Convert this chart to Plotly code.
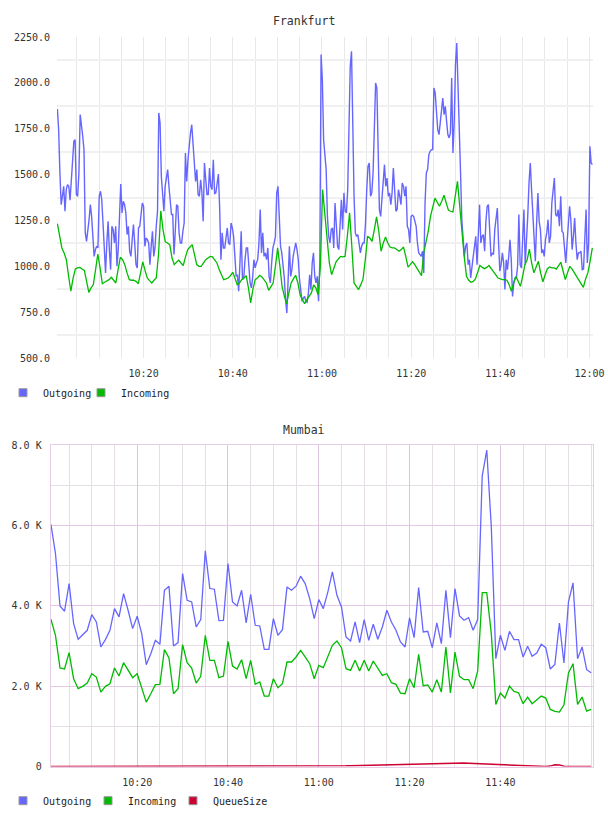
import plotly.graph_objects as go
import pandas as pd

DAY = "2000-01-01 "

# ---------------- Frankfurt data ----------------
FRA_OUT = [
1858,1745,1509,1336,1382,1436,1300,1418,1445,1436,
1360,1490,1600,1681,1690,1391,1382,1509,1827,1781,
1709,1636,1182,1136,1182,1254,1336,1272,1163,1054,
1091,1109,1100,1382,1409,1363,1236,1054,964,1127,
1245,1091,982,1218,1200,1127,1218,1000,1091,1272,
1449,1291,1354,1336,1291,1173,1218,1082,1054,1145,
1227,1127,1009,991,1209,1218,1272,1345,1327,1109,
1154,1145,1127,1009,1109,1191,1054,1100,1218,1300,
1836,1781,1490,1363,1300,1436,1481,1527,1436,1336,
1282,1282,1064,1191,1336,1327,1182,1127,1127,1191,
1236,1618,1463,1581,1663,1727,1772,1645,1536,1463,
1527,1391,1382,1472,1400,1245,1563,1454,1391,1391,
1536,1436,1418,1581,1396,1400,1454,1503,1318,1036,
1182,1100,1100,1145,1209,1127,1118,1236,1209,1163,
1009,945,954,
864,1018,1191,927,936,1036,1100,1100,1018,909,
882,936,1036,991,1018,1036,1127,1309,1073,1182,
1054,1073,1036,1100,945,909,1018,1100,1127,1163,
1400,1436,1272,1109,1073,1018,936,818,745,927,
1109,945,982,1054,1100,1127,1091,1036,927,855,
809,827,836,809,804,855,954,873,1018,1073,
945,909,945,809,1018,2154,2017,1690,1600,1527,
1272,1163,1127,1200,1209,1100,1345,1236,1109,1091,
1272,1363,1200,1400,1300,1291,1418,1790,2090,2172,
1709,1382,1182,1163,1173,1109,1073,1109,1127,1127,
1227,1418,1545,1563,1382,1400,1509,1745,1999,1972,
1563,1309,1272,1354,1436,1554,1436,1481,1382,1400,
1336,1400,1536,1418,1300,1309,1418,1382,1336,1454,
1436,1382,1436,1218,1200,1127,1272,1278,1272,1245,
1218,1127,1073,1064,1054,1082,963,
1345,1509,1527,1609,1627,1636,1636,1972,1945,1836,
1745,1718,1799,1872,1917,1827,1872,1790,1718,1700,
1727,2027,1618,1781,2099,2217,1926,1763,1509,1254,
1127,1054,1109,1127,1009,1036,936,1009,1054,1109,
1163,1009,1163,1336,1127,1163,1173,1082,1245,1327,
1336,1200,1054,1073,1064,1200,1272,1318,1127,973,
1009,1073,1018,873,1036,982,1054,1145,1036,836,
909,936,936,1000,1282,1009,991,1163,1309,1009,
1127,1272,1454,1563,1418,1272,1163,1027,1236,1400,
1245,1200,1073,1091,1054,1145,1182,1254,1127,1163,
1345,1418,1481,1282,1272,1309,1218,1382,1191,1182,
1082,1018,1127,1254,1327,1254,1091,1163,1263,1127,
1036,1073,1073,1082,982,985,1127,1309,1018,1127,
1654,1563,1554,
]

FRA_IN = [
1232,1163,1100,1073,1036,945,864,936,985,991,
994,985,978,918,858,882,900,982,1067,991,
905,913,918,927,940,927,909,982,1049,1036,
1009,964,927,924,924,918,905,964,1024,978,
936,922,909,924,936,1064,1303,1200,1133,1127,
1118,1045,1009,1022,1033,1018,1004,1051,1091,1105,
1118,1064,1009,1000,1000,1018,1036,1045,1054,1051,
1036,1018,982,954,927,931,936,949,967,936,
900,909,
927,936,949,882,800,876,927,936,951,942,
924,909,869,891,909,1000,1100,1000,887,836,
796,855,909,931,951,909,845,818,796,818,
836,855,898,882,845,1000,1418,1272,1127,1018,
954,991,1024,1040,1054,1051,1054,1163,1291,1109,
909,891,873,900,931,1036,1163,1154,1136,1200,
1269,1191,1082,1127,1160,1127,1105,1100,1100,1091,
1082,1091,1105,1054,996,1009,1024,1009,991,969,
949,
1073,1127,1191,1272,1327,1372,1349,1327,1354,1387,
1345,1305,1300,1296,1382,1463,1327,1182,1054,945,
924,913,918,931,964,1005,994,987,994,1004,
987,973,954,936,931,927,927,924,900,864,
909,945,918,891,945,1009,1036,1094,1018,964,
996,1027,964,915,954,987,996,991,991,985,
1004,1022,973,927,967,1000,985,964,942,924,
905,885,931,964,1027,1100,
]

FRA_START = "10:00:40"
FRA_OUT_END = "12:00:38"
FRA_IN_END = "12:00:37"
FRA_XRANGE = ["10:00:35", "12:00:46"]
FRA_XTICKS = ["10:20", "10:40", "11:00", "11:20", "11:40", "12:00"]
FRA_YTICKS = [500, 750, 1000, 1250, 1500, 1750, 2000, 2250]
FRA_YGRID = [625, 875, 1125, 1375, 1625, 1875, 2125]

# ---------------- Mumbai data (1 point per minute, 10:01 - 12:00) ----------------
MUM_OUT = [
6023,5300,3996,3863,4552,3555,3165,3290,3389,3780,
3597,2974,3157,3389,3929,3722,4303,3888,3431,3738,
3306,2534,2808,3140,3040,4386,4486,2999,3082,4801,
4137,4095,3472,3655,5366,4428,4411,3630,3638,5051,
4095,3996,
4386,3572,4286,3514,3497,2916,2916,3680,3265,3406,
4469,4386,4486,4735,4552,4178,3680,4154,3929,4345,
4843,4261,3971,3223,3123,3597,3082,3655,3140,3539,
3165,3472,3888,3597,3389,3099,2974,3697,3207,4453,
3348,3364,
2957,3572,3057,4386,3207,4428,3746,3638,3705,3389,
3655,7227,7875,5964,2683,3265,2891,3364,3157,3157,
2725,2991,2741,2824,3040,2957,2426,2542,3572,2575,
4095,4569,2683,2974,2409,2334,
]

MUM_IN = [
3663,3265,2451,2426,2833,2185,1936,1994,2077,2309,
2226,1852,1994,2060,2451,2251,2583,2392,2210,2309,
1936,1603,1811,2035,2044,2907,2700,1811,1936,3032,
2583,2451,2077,2243,3265,2642,2642,2210,2251,3115,
2500,2426,
2658,2185,2642,2044,2102,1753,1753,2185,1960,2060,
2600,2600,2725,2891,2725,2559,2185,2517,2459,2741,
3015,3123,2957,2434,2392,2642,2376,2642,2376,2625,
2459,2268,2309,2085,2044,1828,1811,2185,1960,2791,
2010,2030,
1852,2160,1852,2974,1828,2849,2243,2160,2160,1936,
2376,4328,4328,3306,1545,1828,1703,2002,1869,1836,
1562,1728,1562,1661,1753,1703,1420,1371,1354,1537,
2326,2559,1545,1728,1379,1420,
]

MUM_Q = [
0,0,0,0,0,0,0,0,0,0,
0,0,0,0,0,0,0,0,0,0,
0,0,0,0,0,0,0,0,0,0,
0,0,0,0,0,0,0,0,0,0,
0,0,0,0,0,0,0,0,0,0,
0,0,0,0,0,0,0,0,0,0,
2,5,8,12,15,18,21,24,27,30,
33,36,39,42,45,48,50,53,56,58,
61,63,66,70,75,80,85,88,90,90,
88,85,80,75,70,62,55,48,42,36,
30,25,20,16,12,8,5,2,0,0,
10,45,40,5,0,0,0,0,0,0,
]

MUM_START = "10:01"
MUM_END = "12:00"
MUM_XRANGE = ["10:00:57", "12:00:28"]
MUM_XTICKS = ["10:20", "10:40", "11:00", "11:20", "11:40"]
MUM_YTICKS = [0, 2000, 4000, 6000, 8000]
MUM_YTICKTEXT = ["0", "2.0 K", "4.0 K", "6.0 K", "8.0 K"]
MUM_YMINOR = [1000, 3000, 5000, 7000]

C_OUT = "#6666ff"
C_IN = "#00bb00"
C_Q = "#cc0033"
FONT = "DejaVu Sans Mono"

fra_t_out = pd.date_range(DAY + FRA_START, DAY + FRA_OUT_END, periods=len(FRA_OUT))
fra_t_in = pd.date_range(DAY + FRA_START, DAY + FRA_IN_END, periods=len(FRA_IN))
mum_t = pd.date_range(DAY + MUM_START, DAY + MUM_END, freq="1min")

fig = go.Figure()

# Frankfurt lines
fig.add_trace(go.Scatter(x=fra_t_out, y=FRA_OUT, mode="lines", line=dict(color=C_OUT, width=1.4),
                         showlegend=False, xaxis="x", yaxis="y", hoverinfo="skip"))
fig.add_trace(go.Scatter(x=fra_t_in, y=FRA_IN, mode="lines", line=dict(color=C_IN, width=1.3),
                         showlegend=False, xaxis="x", yaxis="y", hoverinfo="skip"))
# Mumbai lines
fig.add_trace(go.Scatter(x=mum_t, y=MUM_Q, mode="lines", line=dict(color=C_Q, width=1.5),
                         showlegend=False, xaxis="x2", yaxis="y2", hoverinfo="skip"))
fig.add_trace(go.Scatter(x=mum_t, y=MUM_OUT, mode="lines", line=dict(color=C_OUT, width=1.3),
                         showlegend=False, xaxis="x2", yaxis="y2", hoverinfo="skip"))
fig.add_trace(go.Scatter(x=mum_t, y=MUM_IN, mode="lines", line=dict(color=C_IN, width=1.3),
                         showlegend=False, xaxis="x2", yaxis="y2", hoverinfo="skip"))

# legend swatches (square markers)
def swatch(name, color, legend, xa, ya, border="#999999", bw=1):
    fig.add_trace(go.Scatter(x=[None], y=[None], mode="markers", name=name,
                             marker=dict(symbol="square", size=8, color=color,
                                         line=dict(color=border, width=bw)),
                             legend=legend, xaxis=xa, yaxis=ya, hoverinfo="skip"))

CLEAR = "rgba(0,0,0,0)"
swatch("Outgoing", C_OUT, "legend", "x", "y")
swatch("Incoming", C_IN, "legend", "x", "y")
swatch(" ", CLEAR, "legend", "x", "y", border=CLEAR, bw=0)   # spacer so the last label is not clipped
swatch("Outgoing", C_OUT, "legend2", "x2", "y2")
swatch("Incoming", C_IN, "legend2", "x2", "y2")
swatch("QueueSize", C_Q, "legend2", "x2", "y2")
swatch(" ", CLEAR, "legend2", "x2", "y2", border=CLEAR, bw=0)

W, H = 608, 816
def px(v):
    return v / W
def py(v):
    return 1 - v / H

tickfont = dict(family=FONT, size=10, color="#333333")

fig.update_layout(
    width=W, height=H, autosize=False,
    margin=dict(l=0, r=0, t=0, b=0, pad=0, autoexpand=False),
    paper_bgcolor="white", plot_bgcolor="white",
    font=dict(family=FONT, size=10, color="#333333"),
    xaxis=dict(
        domain=[px(57), px(593)], anchor="y", type="date", automargin=False,
        range=[DAY + FRA_XRANGE[0], DAY + FRA_XRANGE[1]],
        tickmode="array", tickvals=[DAY + t for t in FRA_XTICKS], ticktext=FRA_XTICKS,
        showgrid=True, gridcolor="#e8e8e8", gridwidth=1,
        minor=dict(dtick=300000, tick0=DAY + "10:00", showgrid=True, gridcolor="#e8e8e8", gridwidth=1),
        zeroline=False, showline=False, ticks="", tickfont=tickfont, ticklabelstandoff=8,
    ),
    yaxis=dict(
        domain=[py(358), py(37)], anchor="x", automargin=False,
        range=[500, 2250],
        tickmode="array", tickvals=FRA_YTICKS, tickformat=".1f",
        showgrid=False,
        minor=dict(tickmode="array", tickvals=FRA_YGRID, showgrid=True, gridcolor="#f0f0f0", gridwidth=2),
        zeroline=False, showline=False, ticks="", tickfont=tickfont, ticklabelstandoff=6,
    ),
    xaxis2=dict(
        domain=[px(50.7), px(593.3)], anchor="y2", type="date", automargin=False,
        range=[DAY + MUM_XRANGE[0], DAY + MUM_XRANGE[1]],
        tickmode="array", tickvals=[DAY + t for t in MUM_XTICKS], ticktext=MUM_XTICKS,
        showgrid=True, gridcolor="#dcc4dc", gridwidth=1,
        minor=dict(dtick=300000, tick0=DAY + "10:00", showgrid=True, gridcolor="#e6dfe6", gridwidth=1),
        zeroline=False, showline=True, mirror=True, linecolor="#e6cce6", linewidth=1,
        ticks="", tickfont=tickfont, ticklabelstandoff=6,
    ),
    yaxis2=dict(
        domain=[py(766.5), py(445)], anchor="x2", automargin=False,
        range=[0, 8000],
        tickmode="array", tickvals=MUM_YTICKS, ticktext=MUM_YTICKTEXT,
        showgrid=True, gridcolor="#e6c8e6", gridwidth=1,
        minor=dict(tickmode="array", tickvals=MUM_YMINOR, showgrid=True, gridcolor="#e6dfe6", gridwidth=1),
        zeroline=False, showline=True, mirror=True, linecolor="#e6cce6", linewidth=1,
        ticks="", tickfont=tickfont, ticklabelstandoff=6,
    ),
    legend=dict(orientation="h", x=px(3), xanchor="left", y=py(392.7), yanchor="middle",
                font=dict(family=FONT, size=10, color="#222222"), bgcolor="rgba(0,0,0,0)",
                itemwidth=30, entrywidth=33, entrywidthmode="pixels", tracegroupgap=0),
    legend2=dict(orientation="h", x=px(3), xanchor="left", y=py(800.7), yanchor="middle",
                 font=dict(family=FONT, size=10, color="#222222"), bgcolor="rgba(0,0,0,0)",
                 itemwidth=30, entrywidth=40, entrywidthmode="pixels", tracegroupgap=0),
    annotations=[
        dict(text="Frankfurt", x=px(304), y=py(21), xref="paper", yref="paper",
             showarrow=False, xanchor="center", yanchor="middle",
             font=dict(family=FONT, size=11.5, color="#333333")),
        dict(text="Mumbai", x=px(304), y=py(430), xref="paper", yref="paper",
             showarrow=False, xanchor="center", yanchor="middle",
             font=dict(family=FONT, size=11.5, color="#333333")),
    ],
)

fig.write_html("out.html")
